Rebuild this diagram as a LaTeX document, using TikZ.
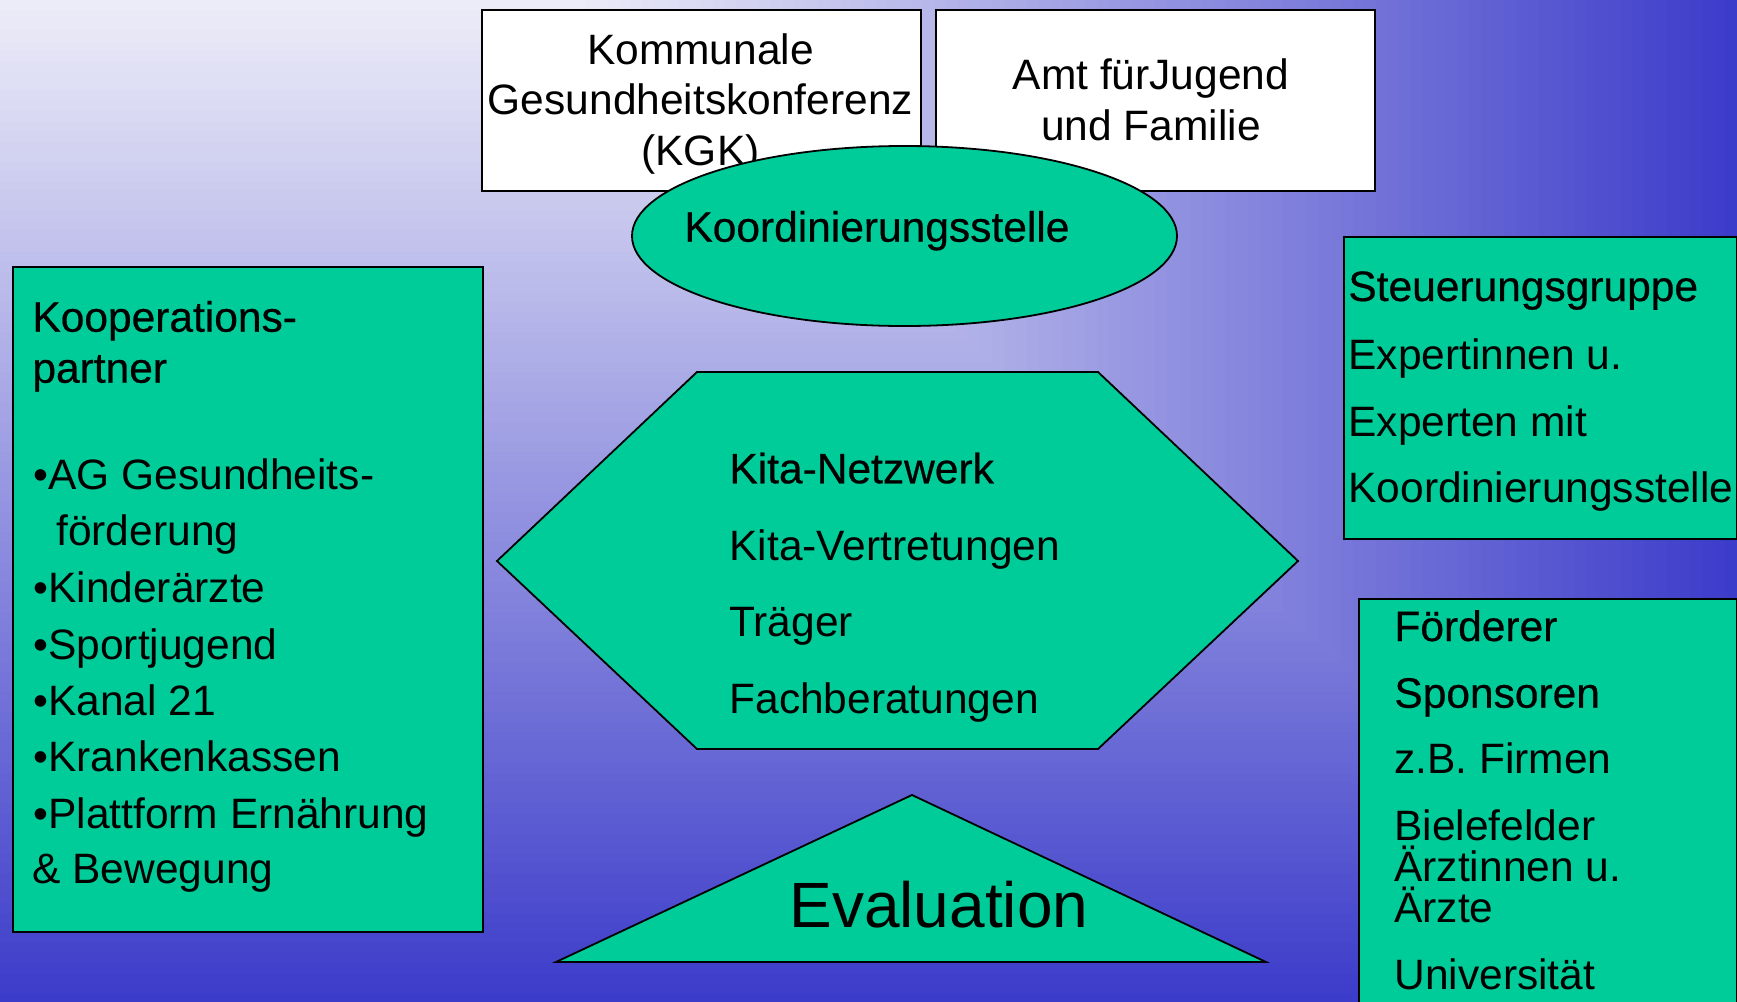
\documentclass[tikz,border=0pt]{standalone}
\usepackage{fontspec}
\setmainfont{Liberation Sans}
\newfontfamily\semib{Liberation Sans}[FakeBold=0.5]
\usetikzlibrary{shapes.geometric}
\definecolor{bgStart}{RGB}{238,238,248}
\definecolor{bgEnd}{RGB}{60,60,202}
\definecolor{kgreen}{RGB}{0,204,153}
\begin{document}
\begin{tikzpicture}[x=0.5pt,y=-0.5pt,
  txt/.style={inner sep=0pt, anchor=base west, font=\fontsize{21.25pt}{25pt}\selectfont},
  ctxt/.style={txt, anchor=base},
  btxt/.style={txt, font=\semib\fontsize{21.25pt}{25pt}\selectfont},
  gbox/.style={draw=black, line width=0.9pt, fill=kgreen, inner sep=0pt, anchor=north west},
  wbox/.style={gbox, fill=white},
  gshape/.style={draw=black, line width=0.9pt, fill=kgreen, line join=miter},
]
\useasboundingbox (0,0) rectangle (1737,1002);
\begin{scope}
\clip (0,0) rectangle (1737,1002);
% corner gradient background
\foreach \t in {100,99,...,1}{
  \fill[bgEnd!\t!bgStart] (0,0) rectangle (572+\t*11.64+1, \t*10.02+1);
}
% top white boxes
\node[wbox, minimum width=219.5pt, minimum height=90.5pt] (kgk) at (481,9) {};
\node[wbox, minimum width=219.5pt, minimum height=90.5pt] (amt) at (935,9) {};
\node[ctxt] (kgk1) at (700.5,64) {Kommunale};
\node[ctxt] (kgk2) at (700.5,114.3) {Gesundheitskonferenz};
\node[ctxt] (kgk3) at (700.5,165.7) {(KGK)};
\node[ctxt] (amt1) at (1151,89.3) {Amt fürJugend};
\node[ctxt] (amt2) at (1151,140) {und Familie};
% ellipse
\node[ellipse, draw=black, line width=0.9pt, fill=kgreen, inner sep=0pt,
      minimum width=272.5pt, minimum height=90pt] (koord) at (904.5,236) {};
\node[btxt] (koordt) at (684,241.7) {Koordinierungsstelle};
% Kooperationspartner box
\node[gbox, minimum width=235pt, minimum height=332.5pt] (koop) at (12,266) {};
\node[btxt] (koop1) at (32,331.7) {Kooperations-};
\node[btxt] (koop2) at (32,382.7) {partner};
\node[txt] (koop3) at (33,489.3) {•AG Gesundheits-};
\node[txt] (koop4) at (56,545) {förderung};
\node[txt] (koop5) at (33,602.7) {•Kinderärzte};
\node[txt] (koop6) at (33,659.3) {•Sportjugend};
\node[txt] (koop7) at (33,715) {•Kanal 21};
\node[txt] (koop8) at (33,771.7) {•Krankenkassen};
\node[txt] (koop9) at (33,828.3) {•Plattform Ernährung};
\node[txt] (koop10) at (32,883.3) {\& Bewegung};
% hexagon
\coordinate (h1) at (497,561);
\coordinate (h2) at (697,372);
\coordinate (h3) at (1098,372);
\coordinate (h4) at (1298,561);
\coordinate (h5) at (1098,749);
\coordinate (h6) at (697,749);
\draw[gshape] (h1) -- (h2) -- (h3) -- (h4) -- (h5) -- (h6) -- cycle;
\node[btxt] (kita1) at (729,483.3) {Kita-Netzwerk};
\node[txt] (kita2) at (729,560) {Kita-Vertretungen};
\node[txt] (kita3) at (729,636.7) {Träger};
\node[txt] (kita4) at (729,713.3) {Fachberatungen};
% Steuerungsgruppe box
\node[gbox, minimum width=196.5pt, minimum height=151pt] (steuer) at (1343,236) {};
\node[btxt] (st1) at (1348,301) {Steuerungsgruppe};
\node[txt] (st2) at (1348,369.3) {Expertinnen u.};
\node[txt] (st3) at (1348,436) {Experten mit};
\node[txt] (st4) at (1348,502.7) {Koordinierungsstelle};
% Foerderer box
\node[gbox, minimum width=189pt, minimum height=215pt] (foerd) at (1358,598) {};
\node[btxt] (f1) at (1394,641) {Förderer};
\node[btxt] (f2) at (1394,707.7) {Sponsoren};
\node[txt] (f3) at (1394,773.3) {z.B. Firmen};
\node[txt] (f4) at (1394,840) {Bielefelder};
\node[txt] (f5) at (1394,881.7) {Ärztinnen u.};
\node[txt] (f6) at (1394,922.3) {Ärzte};
\node[txt] (f7) at (1394,989) {Universität};
% Evaluation triangle
\coordinate (t1) at (912,795);
\coordinate (t2) at (1266,962);
\coordinate (t3) at (556,962);
\draw[gshape] (t1) -- (t2) -- (t3) -- cycle;
\node[txt, font=\fontsize{32pt}{38pt}\selectfont] (eval) at (789,927) {Evaluation};
\end{scope}
\end{tikzpicture}
\end{document}
